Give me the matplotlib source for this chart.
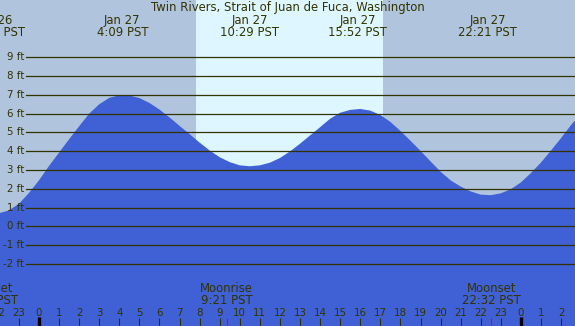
"""
Tide chart: Twin Rivers, Strait of Juan de Fuca, Washington (Jan 27)
Output: out.png (575x326)
"""

import matplotlib
matplotlib.use("Agg")
import matplotlib.pyplot as plt
import matplotlib.transforms as mtransforms

# --- data (hours relative to Jan 27 00:00 PST) ---
TIDE_HOURS = [
    -2.0, -1.5, -1.0, -0.5, 0.0, 0.5, 1.0, 1.5, 2.0, 2.5, 3.0, 3.5,
    4.0, 4.5, 5.0, 5.5, 6.0, 6.5, 7.0, 7.5, 8.0, 8.5, 9.0, 9.5,
    10.0, 10.5, 11.0, 11.5, 12.0, 12.5, 13.0, 13.5, 14.0, 14.5, 15.0, 15.5,
    16.0, 16.5, 17.0, 17.5, 18.0, 18.5, 19.0, 19.5, 20.0, 20.5, 21.0, 21.5,
    22.0, 22.5, 23.0, 23.5, 24.0, 24.5, 25.0, 25.5, 26.0, 26.5, 27.0,
]
TIDE_FT = [
    0.70, 0.85, 1.20, 1.78, 2.45, 3.22, 3.93, 4.64, 5.33, 6.00, 6.50, 6.84,
    6.98, 6.97, 6.83, 6.57, 6.22, 5.80, 5.35, 4.91, 4.46, 4.04, 3.68, 3.42,
    3.25, 3.20, 3.25, 3.39, 3.64, 3.99, 4.40, 4.84, 5.28, 5.73, 6.05, 6.20,
    6.25, 6.16, 5.93, 5.56, 5.08, 4.56, 4.02, 3.46, 2.91, 2.45, 2.12, 1.86,
    1.69, 1.66, 1.76, 1.98, 2.34, 2.84, 3.40, 4.04, 4.70, 5.40, 6.00,
]

EXTREME_HOURS = [-2.18, 4.15, 10.48, 15.87, 22.35]
EXTREME_LABELS = ["Jan 26\n21:49 PST", "Jan 27\n4:09 PST", "Jan 27\n10:29 PST",
                  "Jan 27\n15:52 PST", "Jan 27\n22:21 PST"]

MOON_HOURS = [-2.52, 9.35, 22.53]
MOON_LABELS = ["Moonset\n21:29 PST", "Moonrise\n9:21 PST", "Moonset\n22:32 PST"]

SUNRISE, SUNSET = 7.82, 17.13

FT_LEVELS = [9, 8, 7, 6, 5, 4, 3, 2, 1, 0, -1, -2]
HOUR_TICKS = list(range(-2, 27))

TITLE = "Twin Rivers, Strait of Juan de Fuca, Washington"

# --- styling ---
W, H = 575, 326
X0_PX, PX_PER_HR = 39.0, 20.08     # hour 0 position, horizontal scale
Y0_PX, PX_PER_FT = 226.4, 18.79    # 0 ft position, vertical scale

BG = "#B0C4DE"
DAY = "#DDF6FF"
WATER = "#4060D6"
INK = "#333300"
FS_TEXT = 8.4   # title, event labels
FS_NUM = 7.4    # hour digits, ft labels


def yfrac(py):
    """Pixel row (from top) to axes fraction."""
    return 1 - py / H


def main():
    fig = plt.figure(figsize=(W / 100, H / 100), dpi=100, facecolor=BG)
    ax = fig.add_axes([0, 0, 1, 1])
    ax.set_facecolor(BG)
    ax.set_axis_off()

    xmin = -X0_PX / PX_PER_HR
    xmax = (W - X0_PX) / PX_PER_HR
    ymax = Y0_PX / PX_PER_FT
    ymin = -(H - Y0_PX) / PX_PER_FT
    ax.set_xlim(xmin, xmax)
    ax.set_ylim(ymin, ymax)

    trans = mtransforms.blended_transform_factory(ax.transData, ax.transAxes)

    # daylight band
    ax.axvspan(SUNRISE, SUNSET, color=DAY, lw=0, zorder=1)

    # water
    ax.fill_between(TIDE_HOURS, TIDE_FT, ymin, color=WATER, lw=0, zorder=2)

    # foot lines + labels
    for ft in FT_LEVELS:
        ax.axhline(ft, xmin=26 / W, xmax=1, color=INK, lw=0.9, zorder=3)
        ax.text(24 / W, ft, f"{ft} ft", transform=ax.get_yaxis_transform(),
                ha="right", va="center", fontsize=FS_NUM, color=INK, zorder=4)

    # title
    ax.text(0.5, yfrac(11), TITLE, transform=ax.transAxes, ha="center",
            va="baseline", fontsize=FS_TEXT, color=INK, zorder=5)

    # high / low labels
    for h, lab in zip(EXTREME_HOURS, EXTREME_LABELS):
        top, bot = lab.split("\n")
        ax.text(h, yfrac(24), top, transform=trans, ha="center", va="baseline",
                fontsize=FS_TEXT, color=INK, zorder=5)
        ax.text(h, yfrac(36), bot, transform=trans, ha="center", va="baseline",
                fontsize=FS_TEXT, color=INK, zorder=5)

    # moon labels
    for h, lab in zip(MOON_HOURS, MOON_LABELS):
        top, bot = lab.split("\n")
        ax.text(h, yfrac(291.5), top, transform=trans, ha="center", va="baseline",
                fontsize=FS_TEXT, color=INK, zorder=5)
        ax.text(h, yfrac(303.5), bot, transform=trans, ha="center", va="baseline",
                fontsize=FS_TEXT, color=INK, zorder=5)

    # hour ticks and labels
    for h in HOUR_TICKS:
        ax.text(h, yfrac(315.5), str(h % 24), transform=trans, ha="center",
                va="baseline", fontsize=FS_NUM, color=INK, zorder=5)
        if h % 24 == 0:
            ax.plot([h, h], [0, yfrac(317)], transform=trans, color="black",
                    lw=2.4, solid_capstyle="butt", zorder=5)
        else:
            ax.plot([h, h], [0, yfrac(318)], transform=trans, color=INK,
                    lw=0.8, solid_capstyle="butt", zorder=5)

    for h in MOON_HOURS:
        ax.plot([h, h], [0, yfrac(318)], transform=trans, color="red",
                lw=0.8, solid_capstyle="butt", zorder=6)

    fig.savefig("out.png", dpi=100, facecolor=BG)
    plt.close(fig)


if __name__ == "__main__":
    main()
